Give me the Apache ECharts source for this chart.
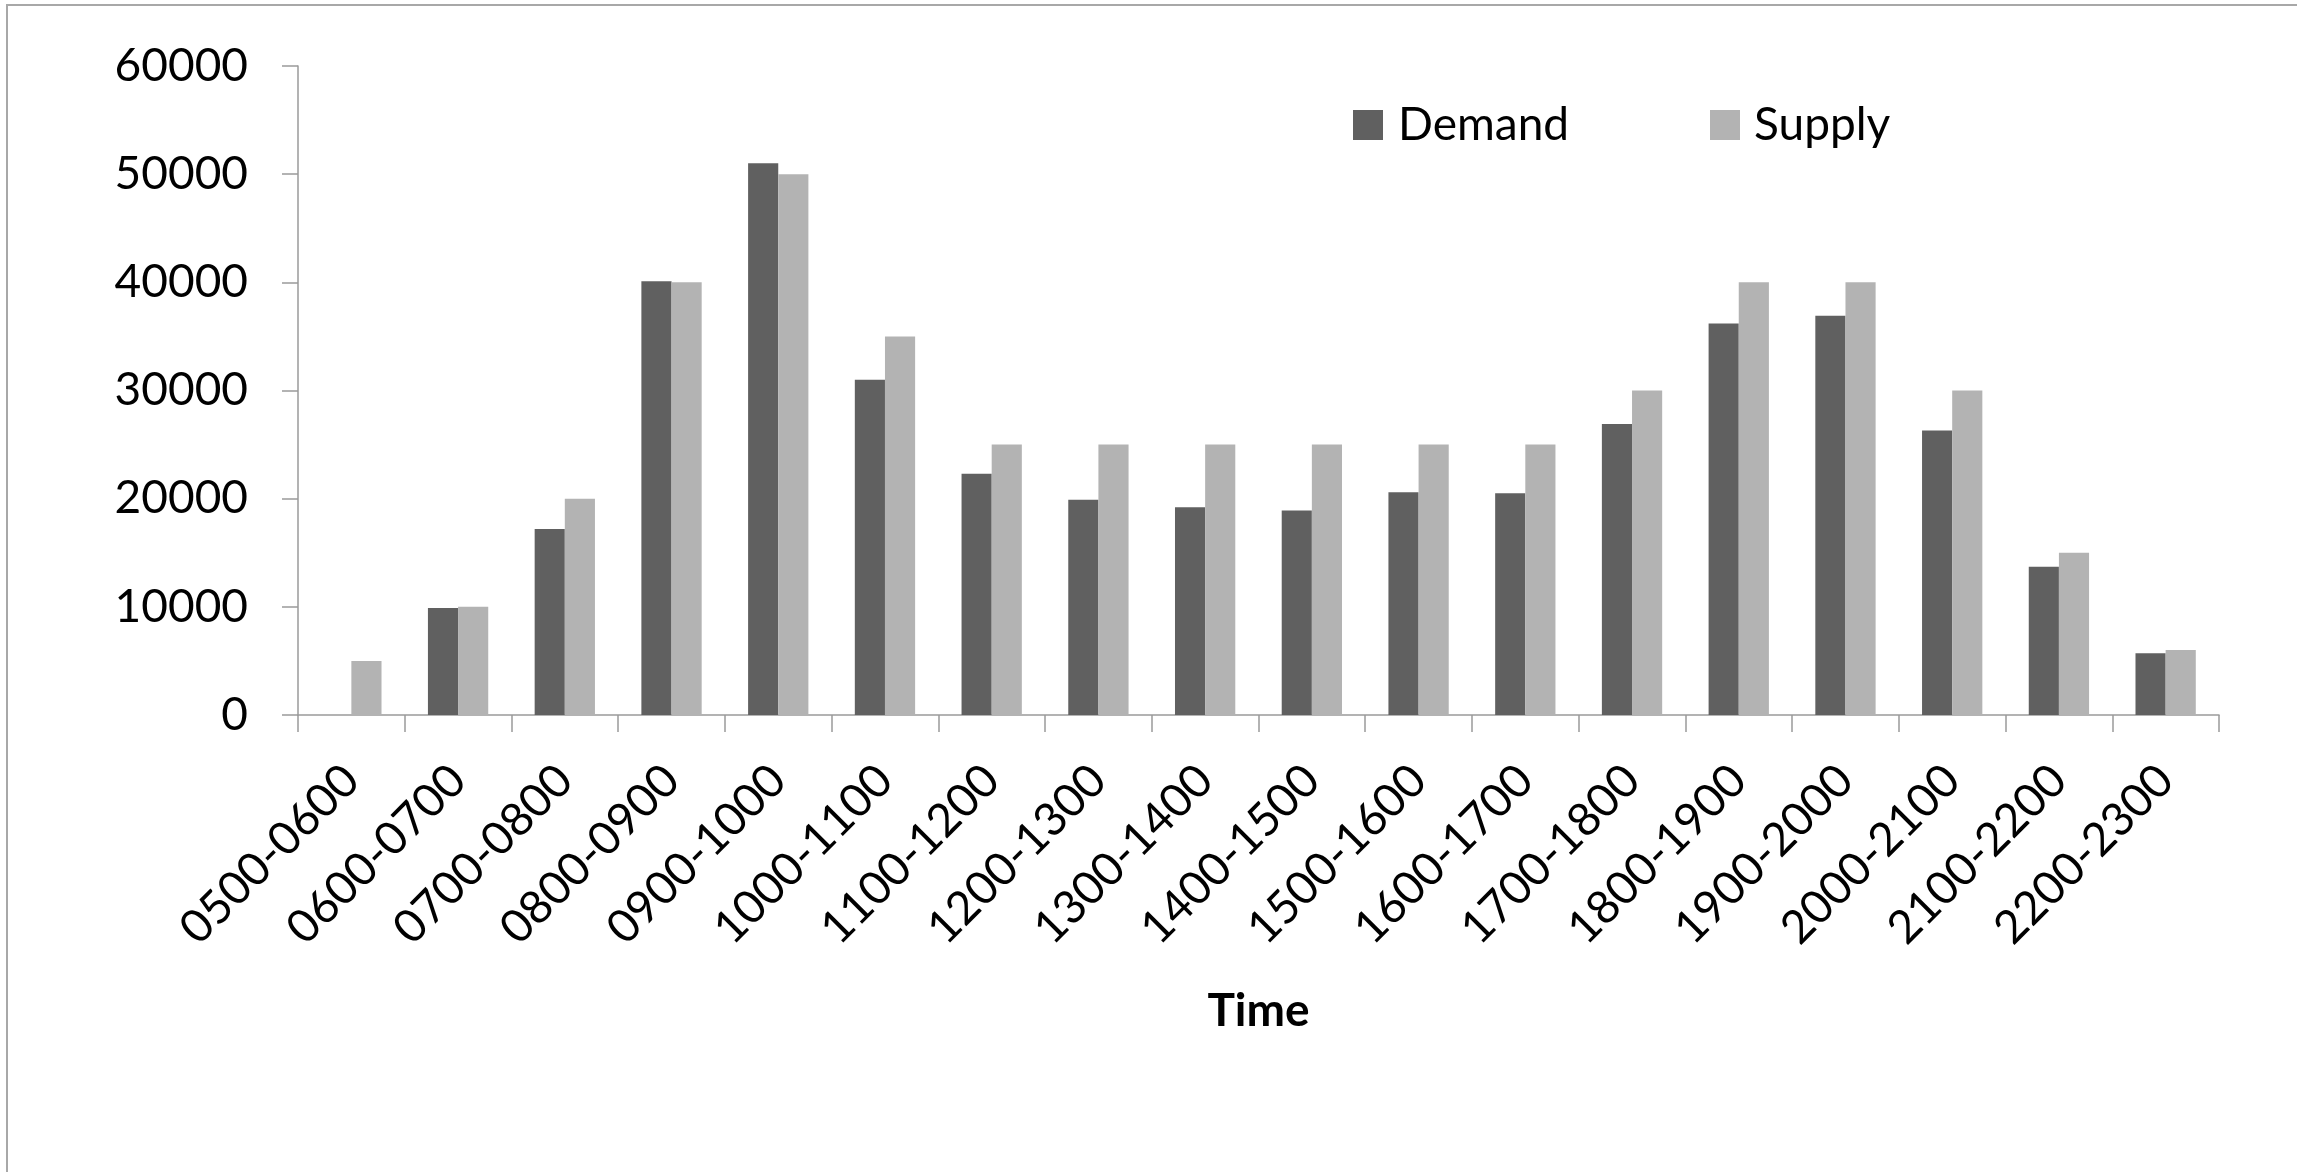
<!DOCTYPE html>
<html>
<head>
<meta charset="utf-8">
<script src="https://cdn.jsdelivr.net/npm/echarts@6/dist/echarts.min.js"></script>
<style>
html,body{margin:0;padding:0;background:#fff;}
#c{width:2297px;height:1172px;}
</style>
</head>
<body>
<div id="c"></div>
<script>
var categories = ['0500-0600','0600-0700','0700-0800','0800-0900','0900-1000','1000-1100','1100-1200','1200-1300','1300-1400','1400-1500','1500-1600','1600-1700','1700-1800','1800-1900','1900-2000','2000-2100','2100-2200','2200-2300'];
var demand = [0, 9900, 17200, 40100, 51000, 31000, 22300, 19900, 19200, 18900, 20600, 20500, 26900, 36200, 36900, 26300, 13700, 5700];
var supply = [5000, 10000, 20000, 40000, 50000, 35000, 25000, 25000, 25000, 25000, 25000, 25000, 30000, 40000, 40000, 30000, 15000, 6000];
var yTicks = {min: 0, max: 60000, interval: 10000};

var FONT = 'Lato';
var chart = echarts.init(document.getElementById('c'));
chart.setOption({
  backgroundColor: '#ffffff',
  animation: false,
  textStyle: {fontFamily: FONT},
  graphic: [{
    type: 'rect',
    shape: {x: 7, y: 5, width: 2400, height: 1300},
    style: {fill: 'none', stroke: '#a8a8a8', lineWidth: 2},
    silent: true
  }],
  grid: {left: 298, right: 78, top: 66, bottom: 457, containLabel: false},
  legend: [{
    data: ['Demand'],
    left: 1348, top: 97,
    itemWidth: 30, itemHeight: 30,
    icon: 'rect',
    textStyle: {fontFamily: FONT, fontSize: 46, color: '#000', padding: [0, 0, 0, 10]}
  }, {
    data: ['Supply'],
    left: 1705, top: 97,
    itemWidth: 30, itemHeight: 30,
    icon: 'rect',
    textStyle: {fontFamily: FONT, fontSize: 46, color: '#000', padding: [0, 0, 0, 9]}
  }],
  xAxis: {
    type: 'category',
    data: categories,
    boundaryGap: true,
    name: 'Time',
    nameLocation: 'middle',
    nameGap: 296,
    nameTextStyle: {fontFamily: FONT, fontSize: 46, fontWeight: 'bold', color: '#000', verticalAlign: 'middle'},
    axisLine: {show: true, lineStyle: {color: '#9a9a9a', width: 1.5}},
    axisTick: {show: true, alignWithLabel: false, length: 17, lineStyle: {color: '#9a9a9a', width: 1.5}},
    axisLabel: {rotate: 45, interval: 0, margin: 58, fontFamily: FONT, fontSize: 46, color: '#000'},
    splitLine: {show: false}
  },
  yAxis: {
    type: 'value',
    min: yTicks.min, max: yTicks.max, interval: yTicks.interval,
    axisLine: {show: true, lineStyle: {color: '#9a9a9a', width: 1.5}},
    axisTick: {show: true, length: 16, lineStyle: {color: '#9a9a9a', width: 1.5}},
    axisLabel: {margin: 50, fontFamily: FONT, fontSize: 46, color: '#000', formatter: function (v) { return String(v); }},
    splitLine: {show: false}
  },
  series: [{
    name: 'Demand',
    type: 'bar',
    data: demand,
    barGap: '0%',
    barCategoryGap: '43.5%',
    itemStyle: {color: '#606060'}
  }, {
    name: 'Supply',
    type: 'bar',
    data: supply,
    barGap: '0%',
    barCategoryGap: '43.5%',
    itemStyle: {color: '#b3b3b3'}
  }]
});
</script>
</body>
</html>
